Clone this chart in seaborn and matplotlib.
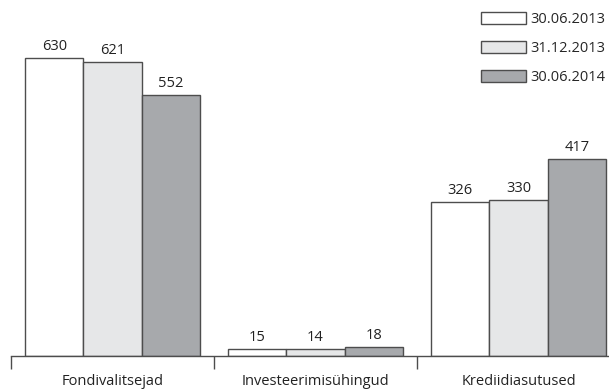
import matplotlib
matplotlib.use("Agg")
import matplotlib.pyplot as plt
import seaborn as sns
import pandas as pd

categories = ["Fondivalitsejad", "Investeerimisühingud", "Krediidiasutused"]
periods = ["30.06.2013", "31.12.2013", "30.06.2014"]
v_2013_06 = [630, 15, 326]
v_2013_12 = [621, 14, 330]
v_2014_06 = [552, 18, 417]

colors = ["#ffffff", "#e6e7e8", "#a7a9ac"]
edge = "#4d4d4d"

rows = []
for period, vals in zip(periods, [v_2013_06, v_2013_12, v_2014_06]):
    for cat, v in zip(categories, vals):
        rows.append({"cat": cat, "period": period, "value": v})
df = pd.DataFrame(rows)

sns.set_style("white")
plt.rcParams["font.family"] = ["Open Sans", "DejaVu Sans"]
fs = 10.5

fig = plt.figure(figsize=(6.09, 3.89), dpi=100)
ax = fig.add_axes([11 / 609, 33 / 389, 609 / 609, 331 / 389])

sns.barplot(data=df, x="cat", y="value", hue="period", order=categories,
            hue_order=periods, palette=colors, width=0.86, edgecolor=edge,
            linewidth=1, saturation=1, ax=ax)

for c in ax.containers:
    ax.bar_label(c, fmt="%d", padding=3, fontsize=fs, color="#222222")

ax.set_ylim(0, 700)
ax.set_xlim(-0.5, 2.5)
ax.set_xlabel("")
ax.set_ylabel("")
ax.set_yticks([])
for s in ["top", "right", "left"]:
    ax.spines[s].set_visible(False)
ax.spines["bottom"].set_color(edge)
ax.spines["bottom"].set_linewidth(1)

ax.set_xticks([-0.5, 0.5, 1.5, 2.5], minor=True)
ax.tick_params(axis="x", which="minor", bottom=True, length=9, width=1,
               color=edge, direction="out")
ax.tick_params(axis="x", which="major", length=0, pad=13, labelsize=fs,
               labelcolor="#222222")

handles, labels = ax.get_legend_handles_labels()
ax.legend(handles, labels, loc="upper left", bbox_to_anchor=(475 / 609, 1 - 6 / 389),
          bbox_transform=fig.transFigure, frameon=False, fontsize=fs,
          borderaxespad=0, handlelength=3.1, handleheight=0.9,
          labelspacing=0.95, handletextpad=0.3)

fig.savefig("out.png", dpi=100)
